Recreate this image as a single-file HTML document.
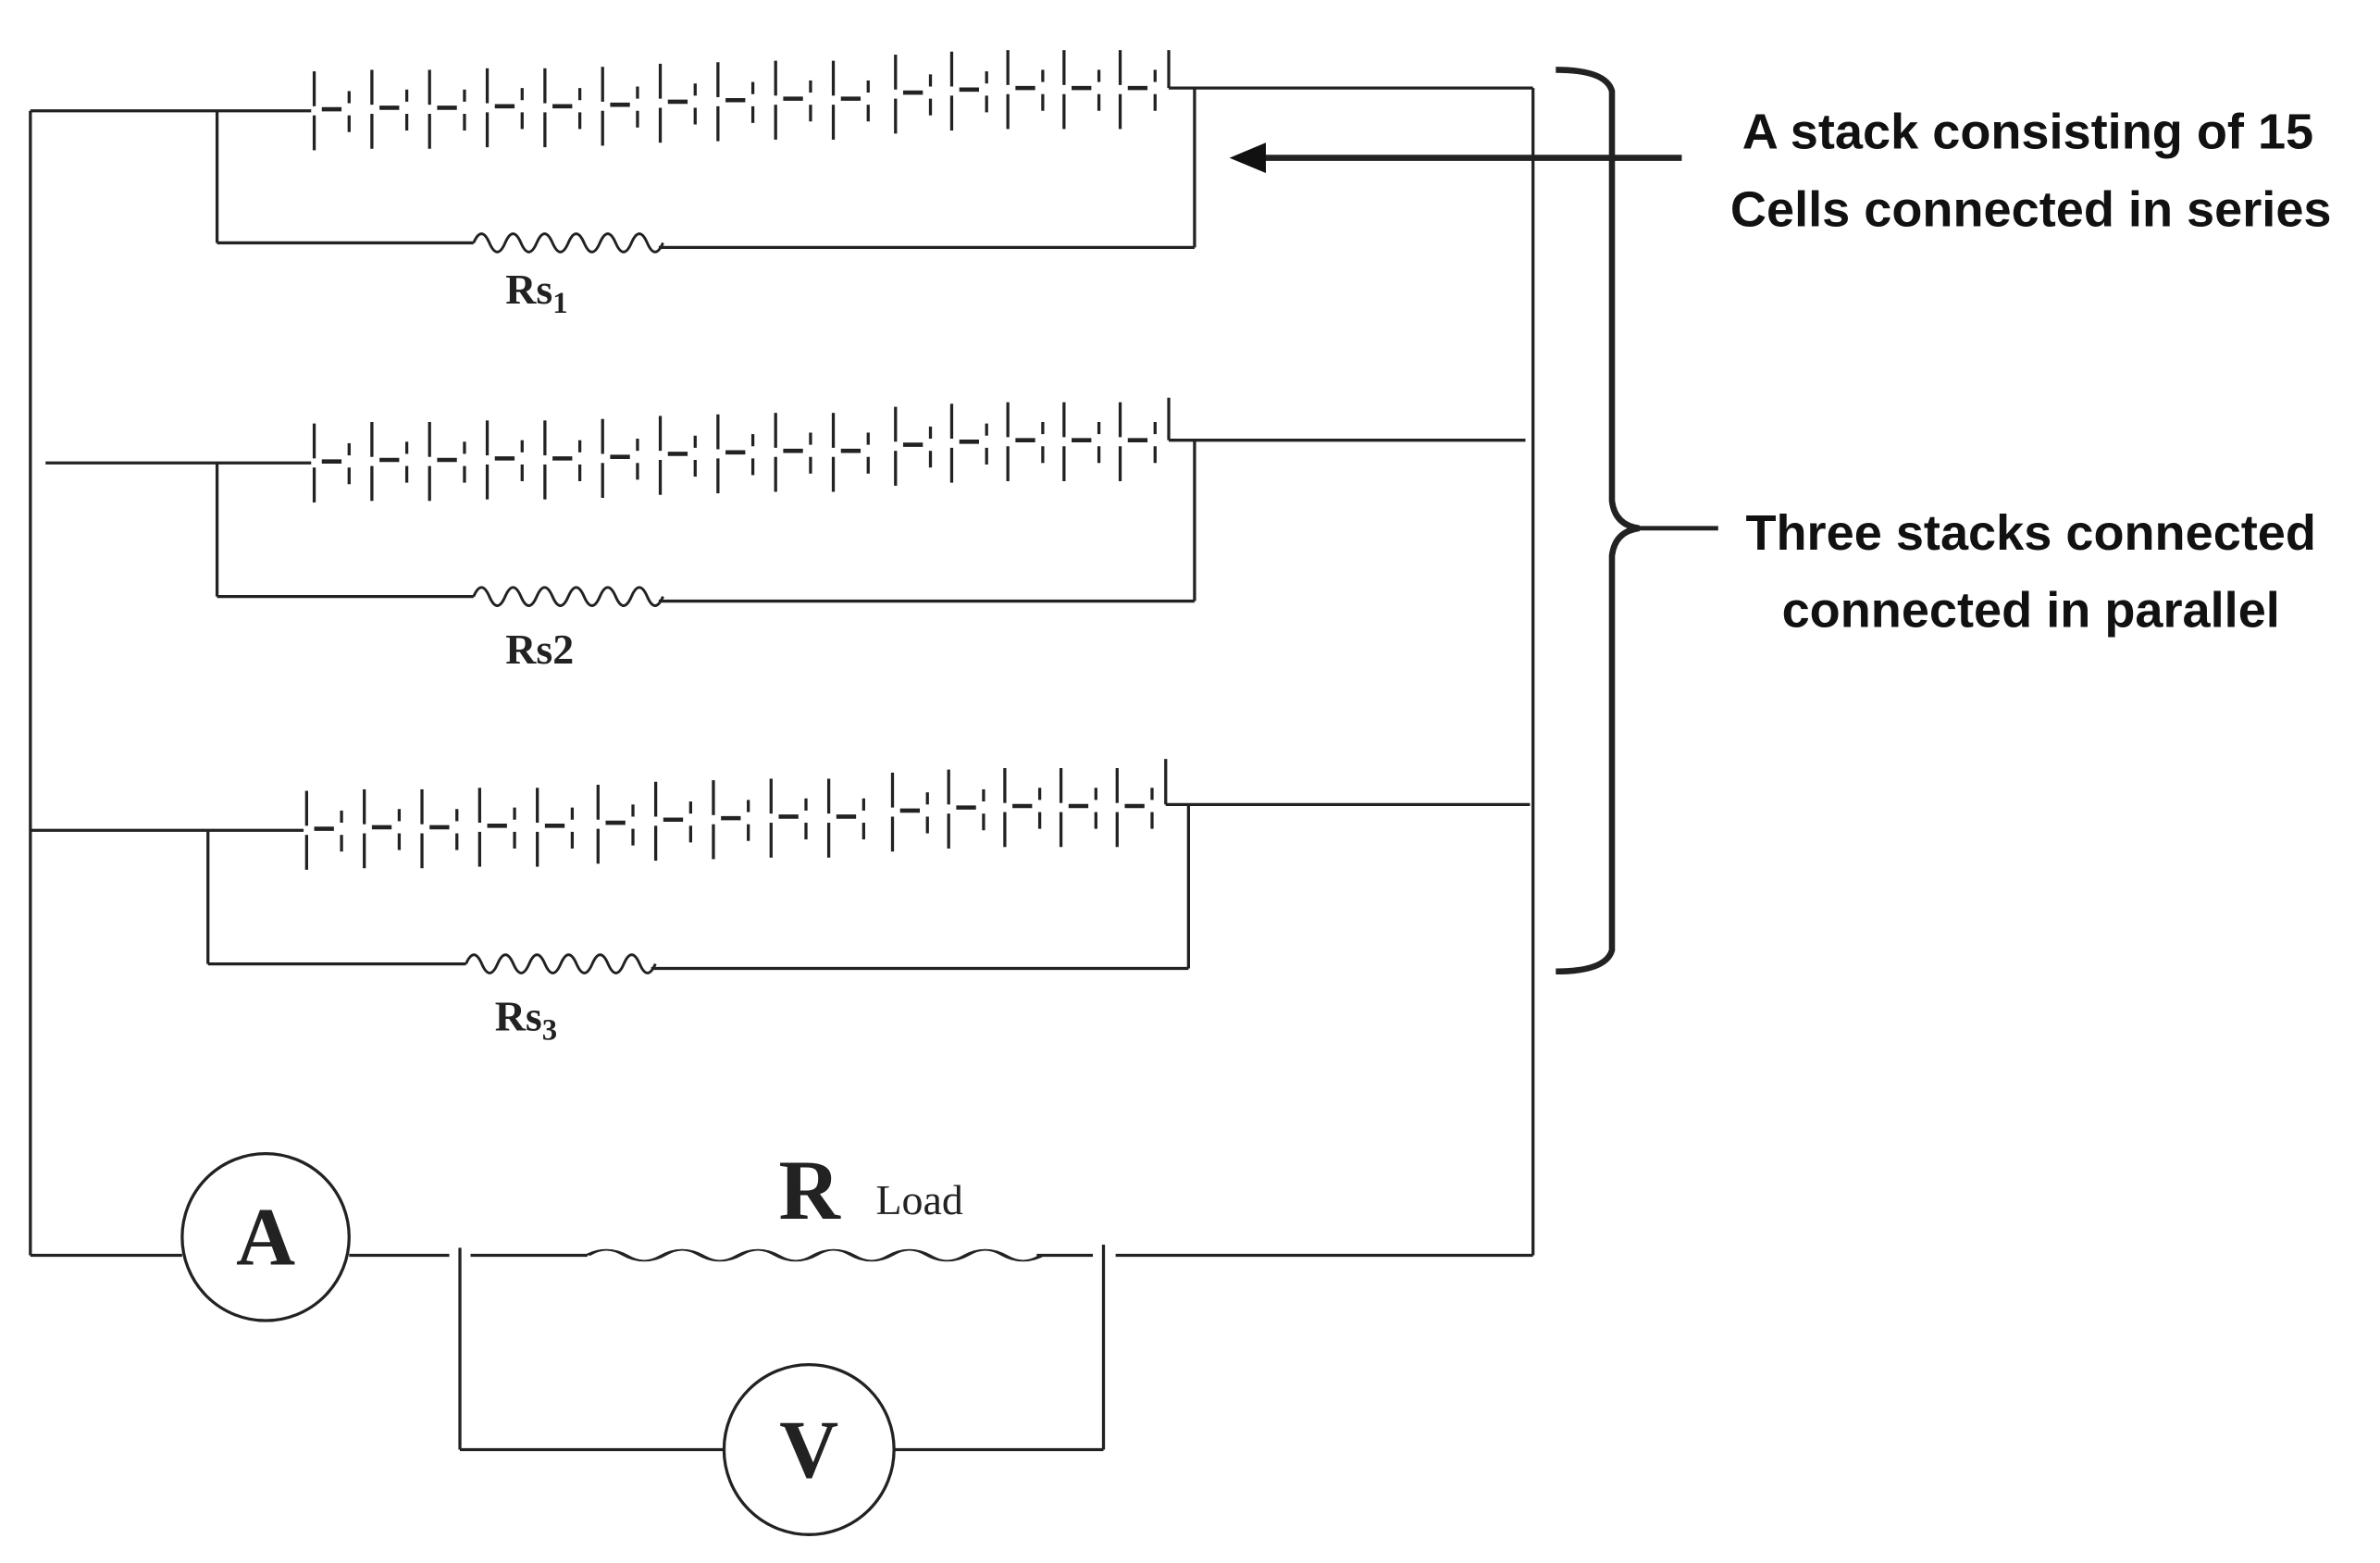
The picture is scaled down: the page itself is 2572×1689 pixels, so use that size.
<!DOCTYPE html>
<html><head><style>
html,body{margin:0;padding:0;background:#fff;}
svg{display:block;}
</style></head><body>
<svg width="2572" height="1689" viewBox="0 0 1568 1029.7" xmlns="http://www.w3.org/2000/svg">
<defs>
<g id="cell" stroke="#222" fill="none">
 <line x1="0" y1="-26" x2="0" y2="-3" stroke-width="2"/>
 <line x1="0" y1="3" x2="0" y2="26" stroke-width="2"/>
 <line x1="5" y1="-1" x2="18" y2="-1" stroke-width="2.8"/>
 <line x1="23" y1="-13" x2="23" y2="-5" stroke-width="2"/>
 <line x1="23" y1="3" x2="23" y2="14" stroke-width="2"/>
</g>
<path id="res" d="M0 0 q5.2 -12 10.4 0 q5.2 12 10.4 0 q5.2 -12 10.4 0 q5.2 12 10.4 0 q5.2 -12 10.4 0 q5.2 12 10.4 0 q5.2 -12 10.4 0 q5.2 12 10.4 0 q5.2 -12 10.4 0 q5.2 12 10.4 0 q5.2 -12 10.4 0 q5.2 12 10.4 0" fill="none" stroke="#222" stroke-width="1.8"/>
</defs>
<g stroke="#222" stroke-width="2" fill="none">
<line x1="20" y1="73" x2="20" y2="827"/>
<line x1="1010" y1="58" x2="1010" y2="827"/>
<line x1="20" y1="73" x2="205" y2="73"/>
<line x1="143" y1="73" x2="143" y2="160"/>
<line x1="143" y1="160" x2="312" y2="160"/>
<line x1="434" y1="163" x2="787" y2="163"/>
<line x1="787" y1="58" x2="787" y2="163"/>
<line x1="770" y1="58" x2="1010" y2="58"/>
<line x1="30" y1="305" x2="205" y2="305"/>
<line x1="143" y1="305" x2="143" y2="393"/>
<line x1="143" y1="393" x2="312" y2="393"/>
<line x1="434" y1="396" x2="787" y2="396"/>
<line x1="787" y1="290" x2="787" y2="396"/>
<line x1="770" y1="290" x2="1005" y2="290"/>
<line x1="20" y1="547" x2="200" y2="547"/>
<line x1="137" y1="547" x2="137" y2="635"/>
<line x1="137" y1="635" x2="307" y2="635"/>
<line x1="429" y1="638" x2="783" y2="638"/>
<line x1="783" y1="530" x2="783" y2="638"/>
<line x1="768" y1="530" x2="1008" y2="530"/>
<line x1="20" y1="827" x2="120" y2="827"/>
<circle cx="175" cy="815" r="55"/>
<line x1="230" y1="827" x2="296" y2="827"/>
<line x1="303" y1="822" x2="303" y2="955"/>
<line x1="310" y1="827" x2="387" y2="827"/>
<line x1="683" y1="827" x2="720" y2="827"/>
<line x1="727" y1="820" x2="727" y2="955"/>
<line x1="735" y1="827" x2="1010" y2="827"/>
<line x1="303" y1="955" x2="478" y2="955"/>
<circle cx="533" cy="955" r="56"/>
<line x1="589" y1="955" x2="727" y2="955"/>
<path d="M1025 46 Q1058 46 1062 60 L1062 330 Q1064 346 1080 348 Q1064 350 1062 366 L1062 626 Q1058 640 1025 640" stroke-width="4"/>
<line x1="1080" y1="348" x2="1132" y2="348" stroke-width="3"/>
<line x1="830" y1="104" x2="1108" y2="104" stroke-width="4"/>
</g>
<polygon points="810,104 834,94 834,114" fill="#111"/>
<use href="#res" x="312" y="160"/>
<use href="#res" x="312" y="393"/>
<use href="#res" x="307" y="635"/>
<use href="#res" x="387" y="827" transform="translate(387 827) scale(2.4 0.6) translate(-387 -827)"/>
<g>
<use href="#cell" x="207" y="73"/><use href="#cell" x="245" y="72"/><use href="#cell" x="283" y="72"/><use href="#cell" x="321" y="71"/><use href="#cell" x="359" y="71"/>
<use href="#cell" x="397" y="70"/><use href="#cell" x="435" y="68"/><use href="#cell" x="473" y="67"/><use href="#cell" x="511" y="66"/><use href="#cell" x="549" y="66"/>
<use href="#cell" x="590" y="62"/><use href="#cell" x="627" y="60"/><use href="#cell" x="664" y="59"/><use href="#cell" x="701" y="59"/><use href="#cell" x="738" y="59"/>
<line x1="770" y1="58" x2="770" y2="33" stroke="#222" stroke-width="2"/>
</g>
<g>
<use href="#cell" x="207" y="305"/><use href="#cell" x="245" y="304"/><use href="#cell" x="283" y="304"/><use href="#cell" x="321" y="303"/><use href="#cell" x="359" y="303"/>
<use href="#cell" x="397" y="302"/><use href="#cell" x="435" y="300"/><use href="#cell" x="473" y="299"/><use href="#cell" x="511" y="298"/><use href="#cell" x="549" y="298"/>
<use href="#cell" x="590" y="294"/><use href="#cell" x="627" y="292"/><use href="#cell" x="664" y="291"/><use href="#cell" x="701" y="291"/><use href="#cell" x="738" y="291"/>
<line x1="770" y1="290" x2="770" y2="262" stroke="#222" stroke-width="2"/>
</g>
<g>
<use href="#cell" x="202" y="547"/><use href="#cell" x="240" y="546"/><use href="#cell" x="278" y="546"/><use href="#cell" x="316" y="545"/><use href="#cell" x="354" y="545"/>
<use href="#cell" x="394" y="543"/><use href="#cell" x="432" y="541"/><use href="#cell" x="470" y="540"/><use href="#cell" x="508" y="539"/><use href="#cell" x="546" y="539"/>
<use href="#cell" x="588" y="535"/><use href="#cell" x="625" y="533"/><use href="#cell" x="662" y="532"/><use href="#cell" x="699" y="532"/><use href="#cell" x="736" y="532"/>
<line x1="768" y1="530" x2="768" y2="500" stroke="#222" stroke-width="2"/>
</g>
<g font-family="Liberation Serif, serif" fill="#222">
<text x="333" y="200" font-size="28" font-weight="bold">Rs<tspan font-size="20" dy="6">1</tspan></text>
<text x="333" y="437" font-size="28" font-weight="bold">Rs2</text>
<text x="326" y="679" font-size="28" font-weight="bold">Rs<tspan font-size="20" dy="6">3</tspan></text>
<text x="513" y="803" font-size="56" font-weight="bold">R</text>
<text x="577" y="800" font-size="28">Load</text>
<text x="175" y="833" font-size="54" font-weight="bold" text-anchor="middle">A</text>
<text x="533" y="973" font-size="54" font-weight="bold" text-anchor="middle">V</text>
</g>
<g font-family="Liberation Sans, sans-serif" font-weight="bold" font-size="33" fill="#111" text-anchor="middle">
<text x="1336" y="98">A stack consisting of 15</text>
<text x="1338" y="149">Cells connected in series</text>
<text x="1338" y="362">Three stacks connected</text>
<text x="1338" y="413">connected in parallel</text>
</g>
</svg>
</body></html>
